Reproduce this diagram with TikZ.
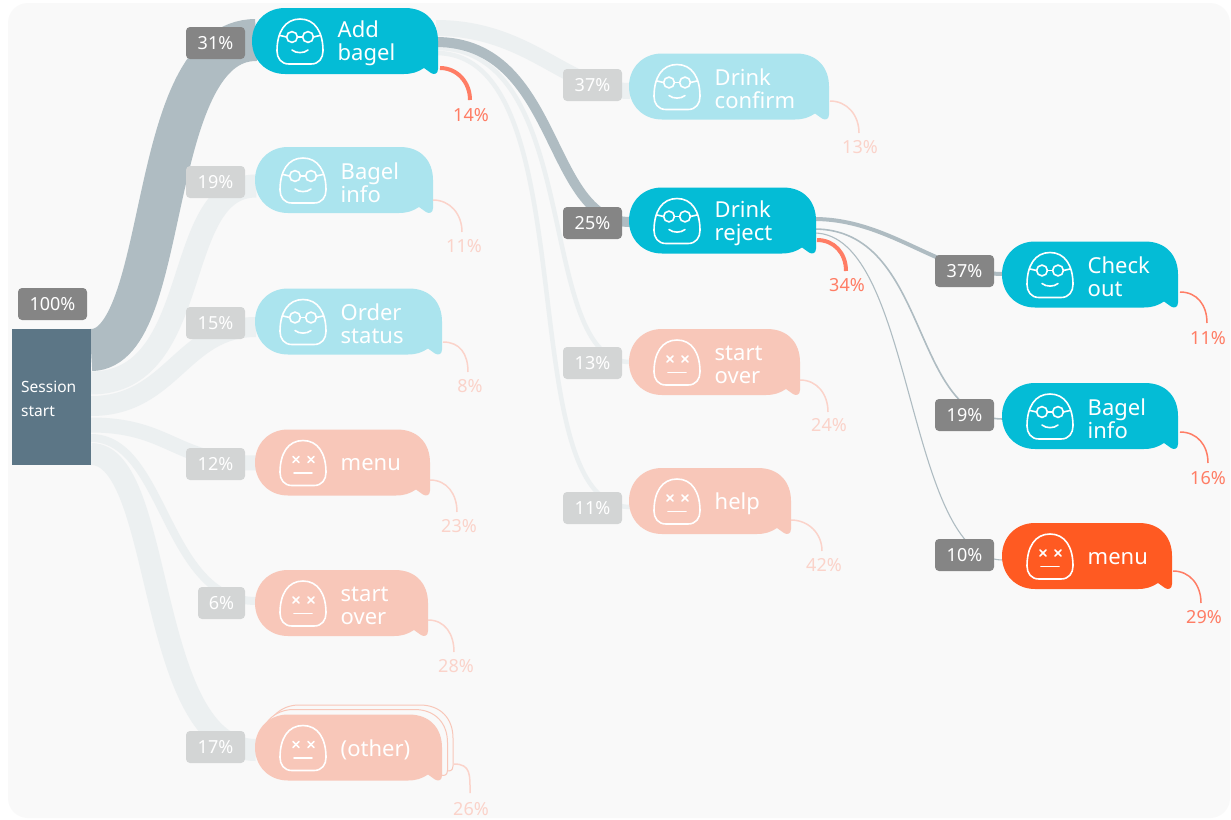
\documentclass[tikz,border=0pt]{standalone}
\usepackage{fontspec}
\setmainfont{Noto Sans}
\definecolor{pagebg}{HTML}{F9F9F9}
\definecolor{sess}{HTML}{5C7686}
\definecolor{teal}{HTML}{04BCD6}
\definecolor{tealf}{HTML}{ABE4EE}
\definecolor{salm}{HTML}{F8C7B9}
\definecolor{hot}{HTML}{FF5A22}
\definecolor{bandd}{HTML}{AFBCC2}
\definecolor{bandl}{HTML}{ECF0F1}
\definecolor{badged}{HTML}{858585}
\definecolor{badgel}{HTML}{D3D5D5}
\definecolor{redd}{HTML}{FF7D65}
\definecolor{redf}{HTML}{FBD3CA}
\tikzset{
  bandline/.style={line width=#1},
  bd/.style={draw=bandd},
  bl/.style={draw=bandl},
  badge/.style={rectangle,rounded corners=4pt,minimum height=32pt,minimum width=59pt,inner sep=0pt,text=white,font=\fontsize{18}{20}\selectfont},
  bdg/.style={badge,fill=badged},
  blg/.style={badge,fill=badgel},
  facel/.style={draw=white,line width=1.6pt,line cap=round},
  btext/.style={anchor=west,align=left,text=white,inner sep=0pt,font=\fontsize{22}{23}\selectfont},
  arcbold/.style={draw=redd,line width=4pt},
  arcmid/.style={draw=redd,line width=1.5pt},
  arcfade/.style={draw=redf,line width=1.5pt},
  lblbold/.style={text=redd,inner sep=0pt,font=\fontsize{18}{20}\selectfont},
  lblmid/.style={lblbold},
  lblfade/.style={text=redf,inner sep=0pt,font=\fontsize{18}{20}\selectfont},
}
% bubble outline, local coordinates, width #1
\newcommand{\bubblepath}[1]{
  (33,0) -- (#1-33,0) .. controls (#1-12,0) and (#1,14) .. (#1,33)
  -- (#1,61) .. controls (#1,66) and (#1-4,67) .. (#1-7,65)
  -- (#1-14,60) .. controls (#1-20,64) and (#1-26,66) .. (#1-34,66)
  -- (33,66) .. controls (14,66) and (0,52) .. (0,33)
  .. controls (0,14) and (14,0) .. (33,0) -- cycle}
\newcommand{\headpath}{
  \draw[facel] (37,56) -- (59,56) .. controls (67,56) and (71,50) .. (71,43)
    .. controls (71,24) and (63,11) .. (48,11)
    .. controls (33,11) and (25,24) .. (25,43)
    .. controls (25,50) and (29,56) .. (37,56) -- cycle;}
\newcommand{\happyface}{\headpath
  \draw[facel] (40,29) circle[radius=5.4];
  \draw[facel] (56,29) circle[radius=5.4];
  \draw[facel] (45.4,29) -- (50.6,29);
  \draw[facel] (34.6,29) -- (28,27.5);
  \draw[facel] (61.4,29) -- (68,27.5);
  \draw[facel] (40,42) .. controls (44,45.5) and (52,45.5) .. (56,42);}
\newcommand{\deadface}{\headpath
  \draw[facel] (38,27) -- (44,33);
  \draw[facel] (44,27) -- (38,33);
  \draw[facel] (53,27) -- (59,33);
  \draw[facel] (59,27) -- (53,33);
  \draw[facel] (39,43.5) -- (57,43.5);}
% name x y w fill face text
\newcommand{\bubble}[7]{
  \begin{scope}[shift={(#2,#3)}]
    \fill[#5] \bubblepath{#4};
    #6
    \node[btext] (#1) at (85.5,35.5) {#7};
  \end{scope}}
% name x1 y1 x2 y2 labelx labely arcstyle,labelstyle text
\newcommand{\tailarc}[9]{
  \coordinate (#1a) at (#2,#3);
  \coordinate (#1b) at (#4,#5);
  \node[lbl#8] (#1) at (#6,#7) {#9};
  \draw[arc#8] (#1a) .. controls +(17,0) and +(0,-18) .. (#1b);}
\begin{document}
\begin{tikzpicture}[x=1pt,y=-1pt]
\useasboundingbox (0,0) rectangle (1231,819);
\fill[white] (0,0) rectangle (1231,819);
\fill[pagebg,rounded corners=20pt] (8,3) rectangle (1230,818);

% band end points
\coordinate (sA) at (91,350);
\coordinate (sB) at (91,383);
\coordinate (sC) at (91,406);
\coordinate (sD) at (91,425);
\coordinate (sE) at (91,438);
\coordinate (sF) at (91,454);
\coordinate (eA) at (256,40);
\coordinate (eB) at (256,186);
\coordinate (eC) at (256,327);
\coordinate (eD) at (256,463);
\coordinate (eE) at (256,601);
\coordinate (eF) at (256,750);
\coordinate (aA) at (436,28);
\coordinate (aB) at (436,42);
\coordinate (aC) at (436,48);
\coordinate (aD) at (436,53);
\coordinate (fA) at (630,91);
\coordinate (fB) at (630,222);
\coordinate (fC) at (630,362);
\coordinate (fD) at (630,507);
\coordinate (rA) at (814,219);
\coordinate (rB) at (814,229);
\coordinate (rC) at (814,233);
\coordinate (gA) at (1003,274);
\coordinate (gB) at (1003,419);
\coordinate (gC) at (1003,560);

% bands, light first
\draw[bl,bandline=23pt] (sB) .. controls (205,383) and (170,186) .. (eB);
\draw[bl,bandline=20pt] (sC) .. controls (172,406) and (182,327) .. (eC);
\draw[bl,bandline=15pt] (sD) .. controls (170,425) and (175,463) .. (eD);
\draw[bl,bandline=8pt] (sE) .. controls (165,438) and (165,601) .. (eE);
\draw[bl,bandline=22pt] (sF) .. controls (165,454) and (145,750) .. (eF);
\draw[bd,bandline=42pt] (sA) .. controls (172,350) and (144,40) .. (eA);
\draw[bl,bandline=16pt] (aA) .. controls (530,28) and (567,91) .. (fA);
\draw[bl,bandline=4.5pt] (aC) .. controls (585,48) and (534,362) .. (fC);
\draw[bl,bandline=4.5pt] (aD) .. controls (590,53) and (508,507) .. (fD);
\draw[bd,bandline=10pt] (aB) .. controls (560,42) and (546,222) .. (fB);
\draw[bd,bandline=4pt] (rA) .. controls (890,219) and (939,274) .. (gA);
\draw[bd,bandline=1.6pt] (rB) .. controls (930,229) and (910,419) .. (gB);
\draw[bd,bandline=1.1pt] (rC) .. controls (915,233) and (905,560) .. (gC);

% session box
\node[rectangle,fill=sess,minimum width=79pt,minimum height=136pt,inner sep=0pt] (session) at (51.5,397) {};
\node[anchor=west,align=left,text=white,inner sep=0pt,font=\fontsize{15.5}{23.5}\selectfont] (sessiontext) at (21,399) {Session\\start};
\node[bdg,minimum width=69pt] (b100) at (52.5,304) {100\%};

% badges
\node[bdg] (b31) at (215.5,43) {31\%};
\node[blg] (b19) at (215.5,182) {19\%};
\node[blg] (b15) at (215.5,323) {15\%};
\node[blg] (b12) at (215.5,464) {12\%};
\node[blg,minimum width=47pt] (b6) at (221.5,603) {6\%};
\node[blg] (b17) at (215.5,747) {17\%};
\node[blg] (b37a) at (592.5,85) {37\%};
\node[bdg] (b25) at (592.5,223) {25\%};
\node[blg] (b13) at (592.5,363) {13\%};
\node[blg] (b11) at (592.5,508) {11\%};
\node[bdg] (b37b) at (964.5,271) {37\%};
\node[bdg] (b19b) at (964.5,415) {19\%};
\node[bdg] (b10) at (964.5,555) {10\%};

% stacked sheets behind (other)
\begin{scope}[shift={(266,705)}]
  \filldraw[fill=pagebg,draw=salm,line width=1pt] \bubblepath{187};
\end{scope}
\begin{scope}[shift={(260.5,709.5)}]
  \filldraw[fill=pagebg,draw=salm,line width=1pt] \bubblepath{187};
\end{scope}

% bubbles
\bubble{addbagel}{252}{8}{186}{teal}{\happyface}{Add\\bagel}
\bubble{bagelinfo}{255}{147}{178}{tealf}{\happyface}{Bagel\\info}
\bubble{orderstatus}{255}{288.5}{187}{tealf}{\happyface}{Order\\status}
\bubble{menua}{255}{429.5}{175}{salm}{\deadface}{menu}
\bubble{startovera}{255}{570}{173}{salm}{\deadface}{start\\over}
\bubble{other}{255}{714.5}{187}{salm}{\deadface}{(other)}
\bubble{drinkconfirm}{629}{53.5}{200}{tealf}{\happyface}{Drink\\confirm}
\bubble{drinkreject}{629}{187.5}{187}{teal}{\happyface}{Drink\\reject}
\bubble{startoverb}{629}{329}{171}{salm}{\deadface}{start\\over}
\bubble{help}{629}{468}{162}{salm}{\deadface}{help}
\bubble{checkout}{1002}{241.5}{176}{teal}{\happyface}{Check\\out}
\bubble{bagelinfob}{1002}{383}{176}{teal}{\happyface}{Bagel\\info}
\bubble{menub}{1002}{523}{170}{hot}{\deadface}{menu}

% tail arcs and labels
\tailarc{t1}{440}{68}{470}{100}{471}{115.5}{bold}{14\%}
\tailarc{t2}{433}{200}{462}{232}{464}{246.5}{fade}{11\%}
\tailarc{t3}{443}{342}{468}{372}{470}{386.5}{fade}{8\%}
\tailarc{t4}{430}{480}{457}{512}{459}{526.5}{fade}{23\%}
\tailarc{t5}{428}{620}{454}{652}{456}{666.5}{fade}{28\%}
\tailarc{t6}{454}{764}{470}{793}{471}{809}{fade}{26\%}
\tailarc{t7}{830}{101}{859}{133}{860}{147}{fade}{13\%}
\tailarc{t8}{817}{240}{846}{271}{847}{285.5}{bold}{34\%}
\tailarc{t9}{800}{380}{828}{412}{829}{425.5}{fade}{24\%}
\tailarc{t10}{791}{520}{822}{551}{824}{565.5}{fade}{42\%}
\tailarc{t11}{1180}{292}{1207}{323}{1208}{338}{mid}{11\%}
\tailarc{t12}{1180}{432}{1208}{463}{1208}{478}{mid}{16\%}
\tailarc{t13}{1173}{571}{1201}{603}{1204}{617.5}{mid}{29\%}
\end{tikzpicture}
\end{document}
